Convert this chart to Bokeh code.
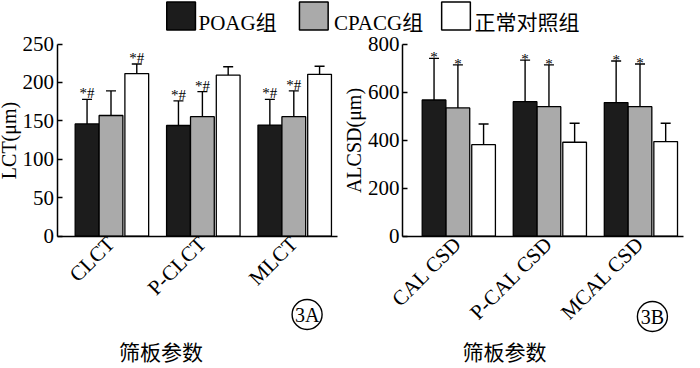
import math
from bokeh.plotting import figure
from bokeh.layouts import column, row
from bokeh.models import Range1d, FixedTicker, Whisker, TeeHead, ColumnDataSource
from bokeh.core.properties import value
from bokeh.embed import file_html
from bokeh.resources import INLINE

# ---------------- data ----------------
series_names = ["POAG组", "CPACG组", "正常对照组"]

groups_a = ["CLCT", "P-CLCT", "MLCT"]
poag_a = [146, 144, 144.5]
poag_a_sd = [32, 32, 33.5]
cpacg_a = [157, 155.5, 155.5]
cpacg_a_sd = [32, 32.5, 33.5]
ctrl_a = [211.5, 209.5, 210.5]
ctrl_a_sd = [12.5, 11, 10.5]
marks_a = [["*#", "*#", "*#"], ["", "*#", "*#"], ["*#", "", ""]]
yticks_a = [0, 50, 100, 150, 200, 250]

groups_b = ["CAL CSD", "P-CAL CSD", "MCAL CSD"]
poag_b = [567, 560, 556]
poag_b_sd = [173, 173, 173]
cpacg_b = [534, 539, 539]
cpacg_b_sd = [179, 174, 178]
ctrl_b = [381, 391, 394]
ctrl_b_sd = [86, 79, 76]
marks_b = [["*", "*", "*"], ["*", "*", "*"], ["", "", ""]]
yticks_b = [0, 200, 400, 600, 800]

xlabel = "筛板参数"
tags = ["3A", "3B"]

# ---------------- style / layout (pixels) ----------------
COLORS = ["#1c1c1c", "#aaaaaa", "#ffffff"]
OFFSETS = [-0.262, 0.0, 0.282]
BAR_W = 0.26
SERIF = "Liberation Serif, Noto Sans CJK SC"
CJK = "Noto Sans CJK SC"

PW, PH = 342, 334          # panel canvas (frame covers it all)
TOP_PX = 11.5              # px of the top tick from canvas top
ZERO_PX = 203.7            # px of value 0
XLAB_PY = 318.0            # px of x-axis title centre

# per panel horizontal anchors: y-axis, first group, group step, x-axis end,
# x-title centre, tag centre  (px from panel's left edge)
LAYOUT_A = dict(axis=56.5, g1=110.5, step=91.4, end=336.6, xlab=160.4, tag=306.6, tag_py=282.0)
LAYOUT_B = dict(axis=59.9, g1=115.4, step=91.05, end=341.1, xlab=161.9, tag=309.9, tag_py=284.0)


def panel(groups, means, sds, marks, yticks, ylabel, tag, mark_off, L):
    ytop = yticks[-1]
    upp = ytop / (ZERO_PX - TOP_PX)

    def ydat(py):
        return (ZERO_PX - py) * upp

    def xdat(px):
        return 1 + (px - L["g1"]) / L["step"]

    p = figure(width=PW, height=PH, x_range=Range1d(xdat(0), xdat(PW)),
               y_range=Range1d(ydat(PH), ydat(0)), toolbar_location=None,
               output_backend="svg", min_border=0)
    p.outline_line_color = None
    p.grid.grid_line_color = None
    xs = [i + 1 for i in range(len(groups))]
    for k in range(3):
        bx = [x + OFFSETS[k] for x in xs]
        up = [m + s for m, s in zip(means[k], sds[k])]
        src = ColumnDataSource(dict(x=bx, top=means[k], up=up, mark=marks[k]))
        w = Whisker(source=src, base="x", lower="top", upper="up",
                    line_color="black", line_width=1.4,
                    upper_head=TeeHead(size=10, line_color="black", line_width=1.4),
                    lower_head=None)
        p.add_layout(w)
        p.vbar(x="x", top="top", width=BAR_W, source=src, fill_color=COLORS[k],
               line_color="black", line_width=1.3)
        p.text(x="x", y="up", text="mark", source=src, text_align="center",
               text_baseline="alphabetic", y_offset=mark_off,
               text_font=value("Liberation Serif"), text_font_size="15px",
               text_color="black")
    # axes placed inside the frame
    p.xaxis.fixed_location = 0
    p.xaxis.bounds = (xdat(L["axis"]), xdat(L["end"]))
    p.xaxis.ticker = FixedTicker(ticks=xs)
    p.xaxis.major_label_overrides = {x: g for x, g in zip(xs, groups)}
    p.xaxis.major_label_orientation = math.pi / 4
    p.xaxis.major_tick_in = 0
    p.xaxis.major_tick_out = 0
    p.xaxis.minor_tick_line_color = None
    p.xaxis.major_label_standoff = 4
    p.yaxis.fixed_location = xdat(L["axis"])
    p.yaxis.bounds = (0, ytop)
    p.yaxis.ticker = FixedTicker(ticks=yticks)
    p.yaxis.major_tick_in = 5
    p.yaxis.major_tick_out = 0
    p.yaxis.minor_tick_line_color = None
    p.yaxis.major_label_standoff = 3
    p.yaxis.axis_label = ylabel
    p.yaxis.axis_label_standoff = 0
    p.yaxis.axis_label_text_font_style = "normal"
    for ax in (p.xaxis, p.yaxis):
        ax.axis_line_width = 1.5
        ax.axis_line_color = "black"
        ax.major_tick_line_width = 1.5
        ax.major_label_text_font = SERIF
        ax.major_label_text_color = "black"
        ax.axis_label_text_font = SERIF
        ax.axis_label_text_font_size = "20px"
        ax.axis_label_text_color = "black"
    p.xaxis.major_label_text_font_size = "21px"
    p.yaxis.major_label_text_font_size = "21px"
    # x-axis title
    p.text(x=[xdat(L["xlab"])], y=[ydat(XLAB_PY)], text=[xlabel],
           text_align="center", text_baseline="middle", text_font=value(CJK),
           text_font_size="21px", text_color="black")
    # panel tag in a circle
    tx, ty = xdat(L["tag"]), ydat(L["tag_py"])
    p.scatter(x=[tx], y=[ty], marker="circle", size=30, fill_color=None,
              line_color="black", line_width=1.4)
    p.text(x=[tx], y=[ty], text=[tag], text_align="center",
           text_baseline="middle", text_font=value("Liberation Serif"),
           text_font_size="20px", text_color="black")
    return p


pa = panel(groups_a, [poag_a, cpacg_a, ctrl_a], [poag_a_sd, cpacg_a_sd, ctrl_a_sd],
           marks_a, yticks_a, "LCT(μm)", tags[0], -6, LAYOUT_A)
pb = panel(groups_b, [poag_b, cpacg_b, ctrl_b], [poag_b_sd, cpacg_b_sd, ctrl_b_sd],
           marks_b, yticks_b, "ALCSD(μm)", tags[1], -1, LAYOUT_B)

# ---------------- legend strip ----------------
LEG_W, LEG_H = 684, 32
leg_sq_x = [180.6, 313.3, 455.5]
leg_tx_x = [198.0, 333.6, 473.9]
leg = figure(width=LEG_W, height=LEG_H, x_range=Range1d(0, LEG_W),
             y_range=Range1d(LEG_H, 0), toolbar_location=None,
             output_backend="svg", min_border=0,
             x_axis_type=None, y_axis_type=None)
leg.outline_line_color = None
leg.grid.grid_line_color = None
leg.rect(x=leg_sq_x, y=[15.5] * 3, width=28.7, height=28, fill_color=COLORS,
         line_color="black", line_width=1.5)
leg.text(x=leg_tx_x, y=[22.0] * 3, text=series_names, text_align="left",
         text_baseline="alphabetic", text_font=value(SERIF),
         text_font_size="21px", text_color="black")

layout = column(leg, row(pa, pb))
open("out.html", "w").write(file_html(layout, INLINE))
